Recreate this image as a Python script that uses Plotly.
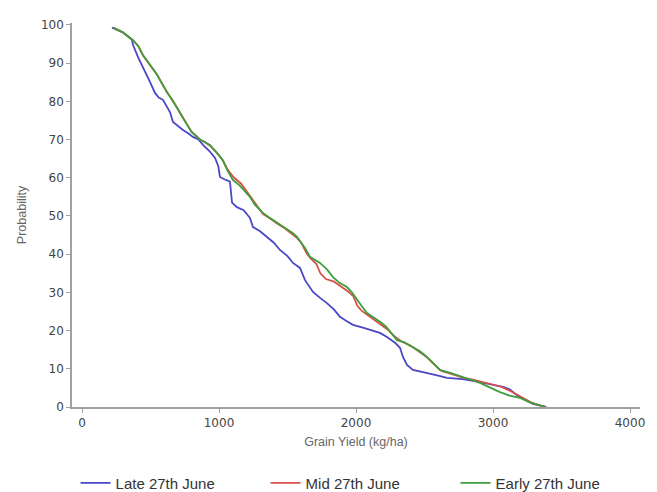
import plotly.graph_objects as go

# Late 27th June (blue)
late_x = [219, 300, 365, 372, 410, 445, 470, 496, 533, 560, 591, 620, 642, 664, 700, 737, 780, 810, 850, 883,
          930, 971, 995, 1007, 1040, 1080, 1095, 1131, 1180, 1226, 1248, 1300, 1350, 1400, 1445, 1500, 1540,
          1591, 1628, 1686, 1740, 1788, 1840, 1883, 1930, 1978, 2050, 2124, 2175, 2226, 2285, 2321, 2343,
          2372, 2416, 2480, 2540, 2600, 2664, 2780, 2905, 3000, 3080, 3124, 3175, 3230, 3292, 3390]
late_y = [99.3, 98, 96.1, 94.8, 91.5, 88.7, 87, 85.1, 82.2, 81, 80.4, 78.5, 77.2, 74.6, 73.5, 72.5, 71.5, 70.7,
          70, 68.6, 67, 65.2, 63, 60.2, 59.6, 59, 53.5, 52.3, 51.5, 49.5, 47.1, 46, 44.5, 43, 41.1, 39.5, 37.7,
          36.4, 33.2, 30.1, 28.5, 27.2, 25.5, 23.6, 22.5, 21.5, 20.8, 19.9, 19.4, 18.3, 16.8, 15.5, 13.1,
          11, 9.7, 9.2, 8.6, 8.2, 7.6, 7.3, 6.5, 5.8, 5.2, 4.6, 3.1, 2, 0.8, 0]

# Mid 27th June (red)
mid_x = [225, 300, 372, 410, 445, 500, 547, 585, 620, 660, 693, 730, 766, 800, 839, 861, 900, 934, 985, 1029,
         1060, 1110, 1160, 1200, 1240, 1270, 1321, 1370, 1423, 1480, 1530, 1570, 1600, 1640, 1670, 1710, 1740,
         1780, 1840, 1890, 1940, 1980, 2010, 2040, 2080, 2130, 2180, 2230, 2280, 2330, 2400, 2460, 2518, 2560,
         2620, 2700, 2781, 2860, 2930, 3000, 3060, 3120, 3160, 3220, 3290, 3385]
mid_y = [99.3, 98, 96, 94.5, 92, 89.3, 87, 84.7, 82.3, 80.4, 78.5, 76, 74, 72, 70.8, 70, 69.2, 68.4, 66.5, 64.5,
         62.3, 60, 58.5, 56.5, 54.5, 53, 50.5, 49.4, 48, 46.8, 45.3, 44.2, 43, 40.2, 38.8, 37.5, 35,
         33.5, 32.8, 31.5, 30.3, 29, 26.5, 25.2, 24.2, 22.8, 21.5, 20.3, 18.5, 17.2, 16, 14.5, 13, 11.5,
         9.5, 8.6, 7.7, 7.1, 6.5, 6, 5.3, 4.3, 3.5, 2.2, 1, 0]

# Early 27th June (green)
early_x = [230, 300, 372, 410, 445, 500, 547, 585, 620, 660, 693, 730, 766, 800, 839, 861, 900, 934, 985, 1029,
           1060, 1102, 1150, 1190, 1226, 1260, 1321, 1370, 1423, 1480, 1540, 1570, 1591, 1630, 1664, 1700, 1737,
           1788, 1832, 1880, 1934, 1970, 2007, 2040, 2080, 2130, 2175, 2220, 2270, 2299, 2350, 2416, 2470, 2518,
           2540, 2580, 2613, 2700, 2781, 2850, 2905, 2980, 3051, 3120, 3197, 3270, 3380]
early_y = [99.3, 98, 96, 94.5, 92.1, 89.5, 87, 84.5, 82.5, 80.5, 78.3, 76, 73.8, 72, 70.7, 70, 69.3, 68.6, 66.5,
           64.5, 62, 59.4, 58, 56.5, 55, 53, 50.8, 49.5, 48.2, 47, 45.5, 44.5, 43.5, 41.5, 39.3, 38.5, 37.7,
           36, 34, 32.5, 31.4, 30, 28, 26.5, 24.6, 23.5, 22.3, 21, 18.8, 17.5, 17, 15.7, 14.5, 13.1,
           12.3, 11, 9.7, 8.8, 7.9, 7, 6.3, 5, 3.9, 3, 2.4, 1.2, 0]

x_ticks = [0, 1000, 2000, 3000, 4000]
y_ticks = [0, 10, 20, 30, 40, 50, 60, 70, 80, 90, 100]

fig = go.Figure()
fig.add_trace(go.Scatter(x=late_x, y=late_y, mode="lines", name="Late 27th June",
                         line=dict(color="#4a48c8", width=1.8)))
fig.add_trace(go.Scatter(x=mid_x, y=mid_y, mode="lines", name="Mid 27th June",
                         line=dict(color="#d8504a", width=1.8)))
fig.add_trace(go.Scatter(x=early_x, y=early_y, mode="lines", name="Early 27th June",
                         line=dict(color="#3e9e3e", width=1.8)))

axis_common = dict(showgrid=False, zeroline=False, showline=True, linecolor="#a0a0a0", linewidth=1.5,
                   ticks="outside", ticklen=4, tickcolor="#a0a0a0",
                   tickfont=dict(family="DejaVu Sans", size=12, color="#444"))

fig.update_layout(
    width=657, height=492,
    margin=dict(l=72, r=17, t=23, b=85),
    paper_bgcolor="white", plot_bgcolor="white",
    xaxis=dict(range=[-73, 4073], tickvals=x_ticks,
               title=dict(text="Grain Yield (kg/ha)", standoff=8,
                          font=dict(family="Liberation Sans", size=12.5, color="#666")),
               **axis_common),
    yaxis=dict(range=[0, 100.5], tickvals=y_ticks,
               title=dict(text="Probability", standoff=12,
                          font=dict(family="Liberation Sans", size=12.5, color="#666")),
               **axis_common),
    legend=dict(orientation="h", xref="container", yref="container", x=0.115, y=0.018,
                xanchor="left", yanchor="middle", entrywidth=145,
                font=dict(family="Liberation Sans", size=15, color="#333")),
)

fig.write_html("out.html")
